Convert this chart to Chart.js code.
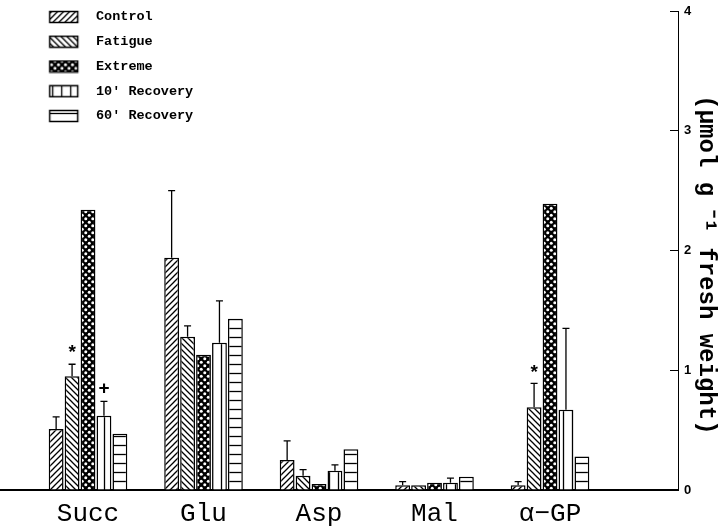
<!DOCTYPE html>
<html>
<head>
<meta charset="utf-8">
<script src="https://cdn.jsdelivr.net/npm/chart.js@4/dist/chart.umd.min.js"></script>
<style>
html, body { margin: 0; padding: 0; background: #fff; }
#wrap { width: 725px; height: 530px; }
</style>
</head>
<body>
<div id="wrap"><canvas id="c" width="725" height="530"></canvas></div>
<script>
// ---- data ----
const categories = ['Succ', 'Glu', 'Asp', 'Mal', 'α−GP'];
const seriesNames = ['Control', 'Fatigue', 'Extreme', "10' Recovery", "60' Recovery"];
const control       = [0.51, 1.94, 0.25, 0.04, 0.04];
const controlErr    = [0.10, 0.56, 0.16, 0.03, 0.03];
const fatigue       = [0.95, 1.28, 0.12, 0.04, 0.69];
const fatigueErr    = [0.10, 0.09, 0.05, 0.00, 0.20];
const extreme       = [2.34, 1.13, 0.05, 0.06, 2.39];
const extremeErr    = [0, 0, 0, 0, 0];
const recovery10    = [0.62, 1.23, 0.16, 0.06, 0.67];
const recovery10Err = [0.12, 0.35, 0.05, 0.04, 0.68];
const recovery60    = [0.47, 1.43, 0.34, 0.11, 0.28];
const recovery60Err = [0, 0, 0, 0, 0];
const yTicks = [0, 1, 2, 3, 4];
const yTitle = '  (μmol g ⁻¹ fresh weight)';
// significance markers: series index, category index, symbol
const markers = [
  { series: 1, category: 0, symbol: '*' },
  { series: 3, category: 0, symbol: '+' },
  { series: 1, category: 4, symbol: '*' }
];

// ---- fill patterns ----
const kinds = ['fwd', 'back', 'dots', 'vert', 'horiz'];
function paintTile(kind) {
  const t = document.createElement('canvas');
  const ctx = t.getContext('2d');
  let s = 6;
  if (kind === 'dots') s = 7;
  if (kind === 'vert') s = 9;
  if (kind === 'horiz') s = 9;
  t.width = s; t.height = s;
  ctx.strokeStyle = '#000';
  ctx.lineWidth = 1.3;
  if (kind === 'fwd') {
    ctx.fillStyle = '#fff'; ctx.fillRect(0, 0, s, s);
    ctx.beginPath();
    ctx.moveTo(0, s); ctx.lineTo(s, 0);
    ctx.moveTo(-1, 1); ctx.lineTo(1, -1);
    ctx.moveTo(s - 1, s + 1); ctx.lineTo(s + 1, s - 1);
    ctx.stroke();
  } else if (kind === 'back') {
    ctx.fillStyle = '#fff'; ctx.fillRect(0, 0, s, s);
    ctx.beginPath();
    ctx.moveTo(0, 0); ctx.lineTo(s, s);
    ctx.moveTo(s - 1, -1); ctx.lineTo(s + 1, 1);
    ctx.moveTo(-1, s - 1); ctx.lineTo(1, s + 1);
    ctx.stroke();
  } else if (kind === 'dots') {
    ctx.fillStyle = '#000'; ctx.fillRect(0, 0, s, s);
    ctx.fillStyle = '#fff';
    ctx.beginPath(); ctx.arc(s * 0.25, s * 0.25, 1.5, 0, Math.PI * 2); ctx.fill();
    ctx.beginPath(); ctx.arc(s * 0.75, s * 0.75, 1.5, 0, Math.PI * 2); ctx.fill();
  } else if (kind === 'vert') {
    ctx.fillStyle = '#fff'; ctx.fillRect(0, 0, s, s);
    ctx.beginPath(); ctx.moveTo(5.5, 0); ctx.lineTo(5.5, s); ctx.stroke();
  } else if (kind === 'horiz') {
    ctx.fillStyle = '#fff'; ctx.fillRect(0, 0, s, s);
    ctx.beginPath(); ctx.moveTo(0, 4.5); ctx.lineTo(s, 4.5); ctx.stroke();
  }
  return t;
}
const mainCtx = document.getElementById('c').getContext('2d');
const patterns = kinds.map(k => mainCtx.createPattern(paintTile(k), 'repeat'));

// legend swatch images (box on the left part, blank space before text)
function swatch(kind) {
  const c = document.createElement('canvas');
  c.width = 78; c.height = 14;
  const ctx = c.getContext('2d');
  ctx.fillStyle = ctx.createPattern(paintTile(kind), 'repeat');
  ctx.fillRect(38, 1, 29, 12);
  ctx.strokeStyle = '#000'; ctx.lineWidth = 1.5;
  ctx.strokeRect(38.5, 1.5, 28, 11);
  return c;
}
const swatches = kinds.map(swatch);

const seriesValues = [control, fatigue, extreme, recovery10, recovery60];
const seriesErrors = [controlErr, fatigueErr, extremeErr, recovery10Err, recovery60Err];

const datasets = seriesNames.map((name, si) => ({
  label: name,
  data: seriesValues[si].map((v, i) => ({ x: i, y: v })),
  errors: seriesErrors[si],
  backgroundColor: patterns[si],
  borderColor: '#000',
  borderWidth: 1.5,
  borderSkipped: 'start',
  categoryPercentage: 0.69,
  barPercentage: 0.93
}));

// ---- plugins ----
const legendShift = {
  id: 'legendShift',
  afterLayout(chart) {
    const lg = chart.legend;
    if (!lg) return;
    const dy = 17 - (lg.top + 11.25 + 6.75);
    lg.top += dy; lg.bottom += dy;
  }
};

const errorBars = {
  id: 'errorBars',
  afterDatasetsDraw(chart) {
    const ctx = chart.ctx;
    const ys = chart.scales.y;
    ctx.save();
    ctx.strokeStyle = '#000';
    ctx.lineWidth = 1.3;
    const tops = {};
    chart.data.datasets.forEach((ds, di) => {
      const meta = chart.getDatasetMeta(di);
      meta.data.forEach((bar, i) => {
        const e = ds.errors[i];
        const v = ds.data[i].y;
        tops[di + '_' + i] = { x: bar.x, y: ys.getPixelForValue(v + (e || 0)) };
        if (!e) return;
        const top = ys.getPixelForValue(v + e);
        ctx.beginPath();
        ctx.moveTo(bar.x, bar.y);
        ctx.lineTo(bar.x, top);
        ctx.moveTo(bar.x - 3.5, top);
        ctx.lineTo(bar.x + 3.5, top);
        ctx.stroke();
      });
    });
    ctx.fillStyle = '#000';
    ctx.textAlign = 'center';
    ctx.textBaseline = 'middle';
    ctx.font = 'bold 19px "Liberation Sans"';
    markers.forEach(m => {
      const p = tops[m.series + '_' + m.category];
      ctx.fillText(m.symbol, p.x, p.y - (m.symbol === '*' ? 11 : 13));
    });
    ctx.restore();
  }
};

new Chart(document.getElementById('c'), {
  type: 'bar',
  data: { datasets },
  options: {
    responsive: false,
    animation: false,
    devicePixelRatio: 1,
    layout: { padding: { left: 0, top: 11, right: 0, bottom: 0 } },
    plugins: {
      tooltip: { enabled: false },
      legend: {
        position: 'chartArea',
        align: 'start',
        labels: {
          usePointStyle: true,
          pointStyleWidth: 78,
          padding: 11.25,
          color: '#000',
          font: { family: 'Liberation Mono', size: 13.5, weight: 'bold' },
          generateLabels(chart) {
            const items = Chart.defaults.plugins.legend.labels.generateLabels(chart);
            items.forEach((it, i) => { it.pointStyle = swatches[i]; });
            return items;
          }
        }
      }
    },
    scales: {
      x: {
        type: 'linear',
        min: -0.762,
        max: 5.108,
        offset: false,
        afterBuildTicks: s => { s.ticks = categories.map((_, i) => ({ value: i })); },
        afterFit: s => { s.height = 40; },
        grid: { display: false, drawTicks: false },
        border: { display: true, color: '#000', width: 2 },
        ticks: {
          autoSkip: false,
          maxRotation: 0,
          padding: 9,
          color: '#000',
          font: { family: 'Liberation Mono', size: 26 },
          callback: v => categories[v] ?? ''
        }
      },
      y: {
        position: 'right',
        min: 0,
        max: 4,
        afterBuildTicks: s => { s.ticks = yTicks.map(v => ({ value: v })); },
        afterFit: s => { s.width = 47; s.paddingTop = 0; s.paddingBottom = 0; },
        grid: { drawOnChartArea: false, tickLength: -8, color: '#000', lineWidth: 1 },
        border: { display: true, color: '#000', width: 1 },
        ticks: {
          padding: 14,
          color: '#000',
          font: { family: 'Liberation Sans', size: 13, weight: 'bold' }
        },
        title: {
          display: true,
          text: yTitle,
          color: '#000',
          font: { family: 'Liberation Mono', size: 24, weight: 'bold' },
          padding: { top: 5, bottom: 0 }
        }
      }
    }
  },
  plugins: [legendShift, errorBars]
});
</script>
</body>
</html>
